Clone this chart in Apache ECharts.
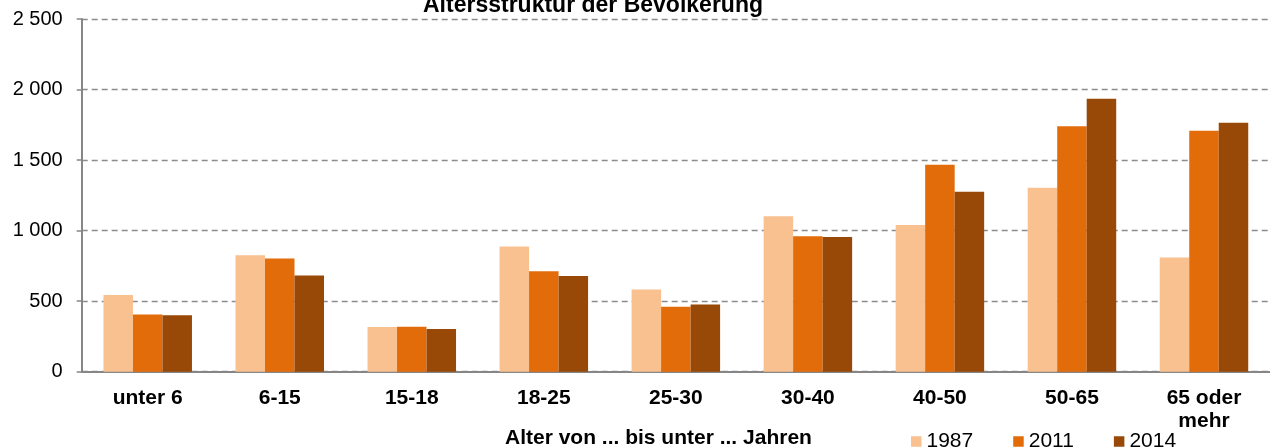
<!DOCTYPE html>
<html lang="de">
<head>
  <meta charset="UTF-8" />
  <title>Altersstruktur der Bevölkerung</title>
  <script src="https://cdn.jsdelivr.net/npm/echarts@6.0.0/dist/echarts.min.js"></script>
  <style>
    html, body { margin: 0; padding: 0; background: #fff; }
    #chart { width: 1270px; height: 447px; }
  </style>
</head>
<body>
  <div id="chart"></div>
  <script>
    const categories = ['unter 6', '6-15', '15-18', '18-25', '25-30', '30-40', '40-50', '50-65', '65 oder mehr'];
    const years = ['1987', '2011', '2014'];
    const values1987 = [543, 826, 316, 887, 583, 1101, 1040, 1304, 809];
    const values2011 = [406, 802, 318, 712, 460, 960, 1467, 1740, 1708];
    const values2014 = [401, 682, 302, 679, 477, 955, 1276, 1934, 1764];
    const colors = ['#F9C190', '#E36C0A', '#984807'];

    const font = "'Liberation Sans', Arial, sans-serif";
    const fmt = v => String(v).replace(/\B(?=(\d{3})+(?!\d))/g, ' ');

    const chart = echarts.init(document.getElementById('chart'));
    chart.setOption({
      animation: false,
      textStyle: { fontFamily: font, color: '#000' },
      title: [
        {
          text: 'Altersstruktur der Bevölkerung', left: 418, top: -11,
          textStyle: { fontFamily: font, fontSize: 23, fontWeight: 'bold', color: '#000' }
        },
        {
          text: 'Alter von ... bis unter ... Jahren', left: 500, top: 423,
          textStyle: { fontFamily: font, fontSize: 21, fontWeight: 'bold', color: '#000' }
        }
      ],
      legend: {
        left: 906, top: 426,
        icon: 'rect', itemWidth: 10.5, itemHeight: 10.5, itemGap: 40,
        textStyle: { fontFamily: font, fontSize: 21, color: '#000' },
        data: years
      },
      grid: { left: 81.7, top: 19, width: 1197, bottom: 75.3 },
      xAxis: {
        type: 'category', data: categories,
        axisLine: { lineStyle: { color: '#868686', width: 2 } },
        axisTick: { show: false },
        axisLabel: {
          interval: 0, margin: 15, fontFamily: font, fontSize: 21, fontWeight: 'bold',
          color: '#000', lineHeight: 23,
          formatter: v => v.replace('oder ', 'oder\n')
        }
      },
      yAxis: {
        type: 'value', min: 0, max: 2500, interval: 500,
        axisLine: { show: true, lineStyle: { color: '#868686', width: 2 } },
        axisTick: { show: true, length: 5, lineStyle: { color: '#868686', width: 1.5 } },
        axisLabel: { margin: 19, fontFamily: font, fontSize: 20, color: '#000', formatter: fmt },
        splitLine: { lineStyle: { color: '#8c8c8c', width: 1.3, type: [6, 4] } }
      },
      series: [
        { name: years[0], type: 'bar', data: values1987, barWidth: 29.5, barGap: '0%', itemStyle: { color: colors[0] } },
        { name: years[1], type: 'bar', data: values2011, barWidth: 29.5, barGap: '0%', itemStyle: { color: colors[1] } },
        { name: years[2], type: 'bar', data: values2014, barWidth: 29.5, barGap: '0%', itemStyle: { color: colors[2] } }
      ]
    });
  </script>
</body>
</html>
